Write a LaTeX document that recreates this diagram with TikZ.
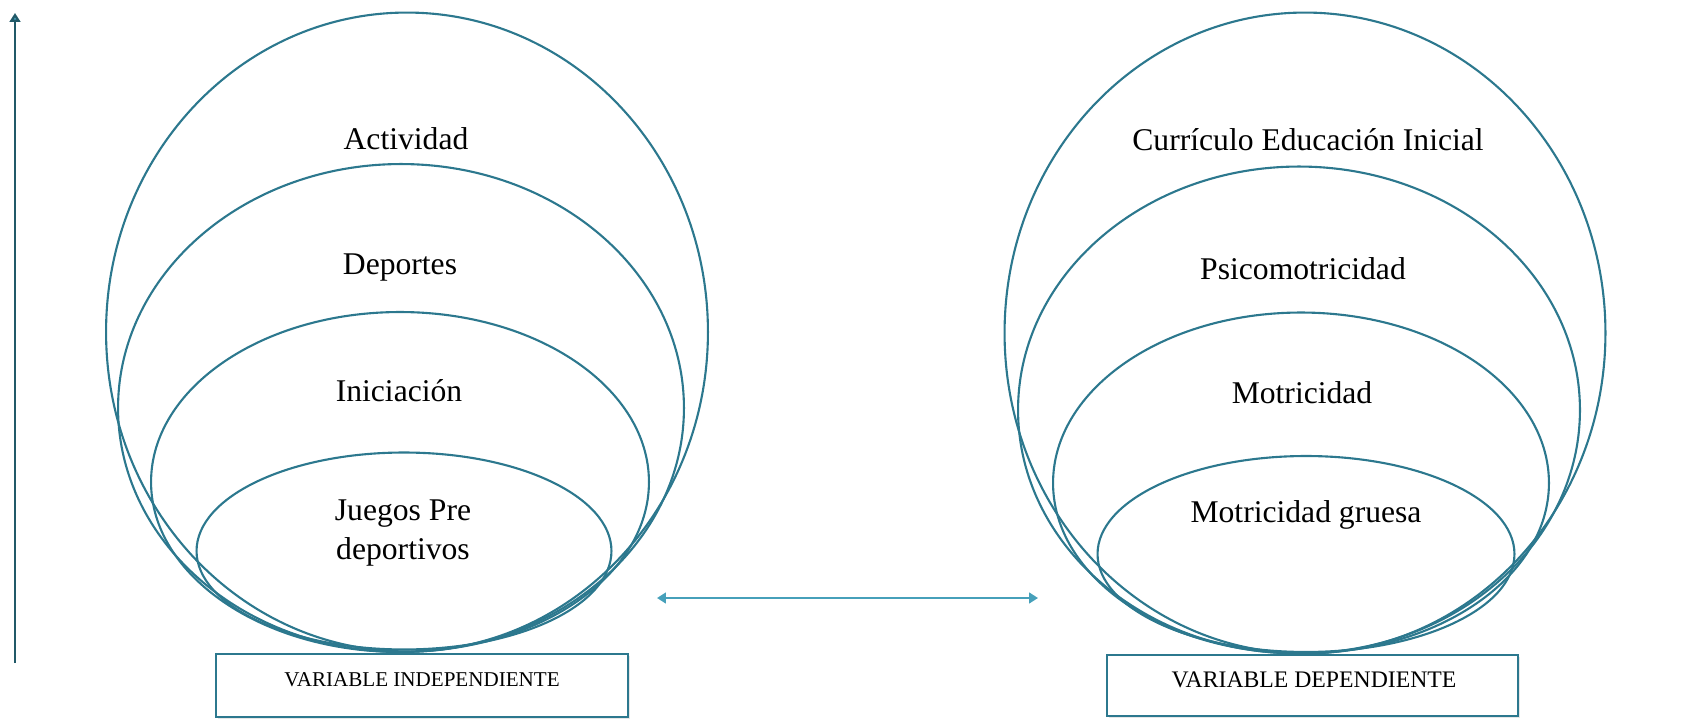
\documentclass[tikz,border=0pt]{standalone}
\usepackage{fontspec}
\setmainfont{Liberation Serif}
\usepackage{xcolor}
\usetikzlibrary{
    shapes.geometric,
    arrows.meta,
    shadows
}
\definecolor{tealline}{RGB}{44,120,142}
\definecolor{tealdark}{RGB}{33,89,104}
\definecolor{teallight}{RGB}{70,160,186}
\tikzset{
  ring/.style = {
      draw=tealline,
      ellipse,
      line width=1.2pt,
      inner sep=0pt
  },
  caption/.style = {
      font=\fontsize{18}{22}\selectfont,
      align=center
  },
  varbox/.style = {
      draw=tealline,
      fill=white,
      line width=1.1pt,
      inner sep=0pt,
      drop shadow={opacity=0.2, shadow xshift=1pt, shadow yshift=-1pt}
  },
  vartext/.style = {
      inner sep=0pt
  },
  axis/.style = {
      draw=tealdark,
      line width=1.4pt,
      -{Triangle[width=6pt,length=5pt,fill=teallight]}
  },
  link/.style = {
      draw=teallight,
      line width=1.2pt,
      {Triangle[width=6pt,length=5pt]}-{Triangle[width=6pt,length=5pt]}
  }
}

\begin{document}
\begin{tikzpicture}[x=0.02cm, y=-0.02cm]
    \useasboundingbox (0,0) rectangle (1690,719);
    % Independent variable
    \node[ring, minimum width=12.04cm, minimum height=12.78cm] (act ring) at (407,332) {};
    \node[ring, minimum width=11.32cm, minimum height=9.76cm] (dep ring) at (401,408) {};
    \node[ring, minimum width=9.96cm, minimum height=6.8cm] (ini ring) at (400,482) {};
    \node[ring, minimum width=8.3cm, minimum height=3.94cm] (jue ring) at (404,551) {};
    \node[caption] (act) at (406,139) {Actividad};
    \node[caption] (dep) at (400,268) {Deportes};
    \node[caption] (ini) at (399,391) {Iniciación};
    \node[caption] (jue) at (403,533) {Juegos Pre\\deportivos};
    \node[varbox, minimum width=8.24cm, minimum height=1.26cm] (vi box) at (422,685.5) {};
    \node[vartext, font=\fontsize{12}{14}\selectfont] (vi) at (422,680) {VARIABLE INDEPENDIENTE};
    % Dependent variable
    \node[ring, minimum width=12.02cm, minimum height=12.82cm] (cur ring) at (1305,333) {};
    \node[ring, minimum width=11.24cm, minimum height=9.74cm] (psi ring) at (1299,410) {};
    \node[ring, minimum width=9.92cm, minimum height=6.82cm] (mot ring) at (1301,483) {};
    \node[ring, minimum width=8.34cm, minimum height=3.92cm] (gru ring) at (1306,554) {};
    \node[caption] (cur) at (1308,140) {Currículo Educación Inicial};
    \node[caption] (psi) at (1303,269) {Psicomotricidad};
    \node[caption] (mot) at (1302,393) {Motricidad};
    \node[caption] (gru) at (1306,515) {Motricidad gruesa};
    \node[varbox, minimum width=8.22cm, minimum height=1.22cm] (vd box) at (1312.5,685.5) {};
    \node[vartext, font=\fontsize{13.5}{16}\selectfont] (vd) at (1314,680) {VARIABLE DEPENDIENTE};
    % Arrows
    \coordinate (axis foot) at (15,663);
    \coordinate (axis head) at (15,13);
    \coordinate (link west) at (657,598);
    \coordinate (link east) at (1038,598);
    \draw[axis] (axis foot) -- (axis head);
    \draw[link] (link west) -- (link east);
\end{tikzpicture}
\end{document}
